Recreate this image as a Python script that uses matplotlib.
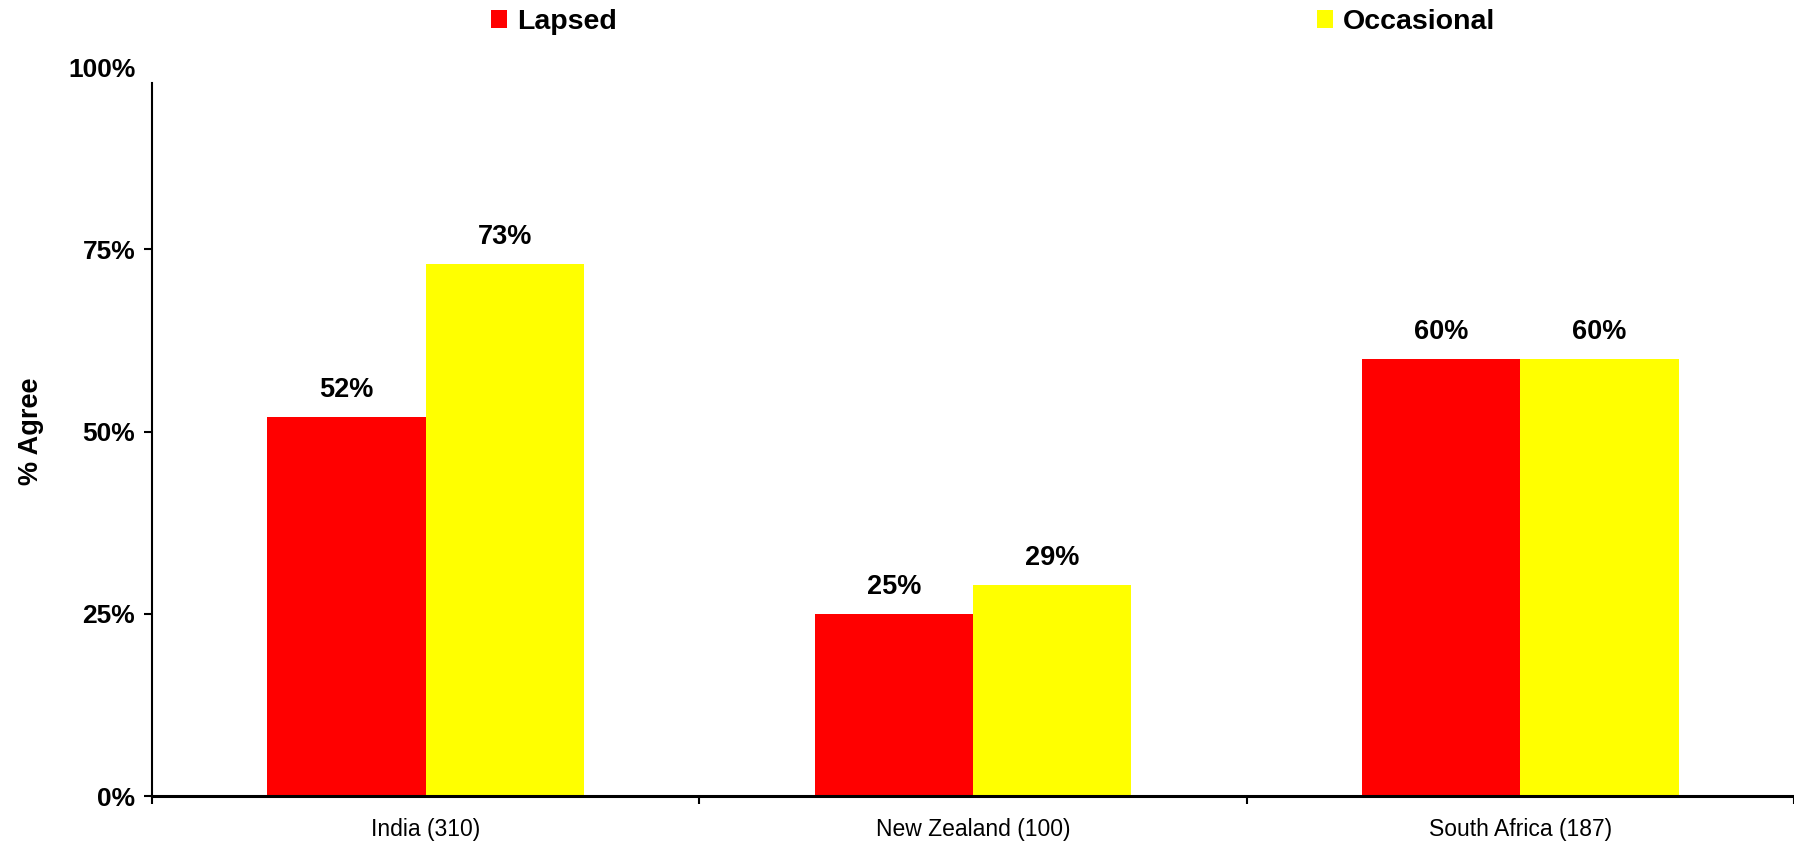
import matplotlib
matplotlib.use("Agg")
import matplotlib.pyplot as plt
from matplotlib import font_manager
import numpy as np

categories = ["India (310)", "New Zealand (100)", "South Africa (187)"]
series_names = ["Lapsed", "Occasional"]
lapsed = [0.52, 0.25, 0.60]
occasional = [0.73, 0.29, 0.60]
colors = ["#FF0000", "#FFFF00"]
yticks = [0, 0.25, 0.5, 0.75, 1.0]
ytick_labels = ["0%", "25%", "50%", "75%", "100%"]

# narrow font if we have it, plain Liberation Sans otherwise
try:
    font_manager.findfont("Liberation Sans Narrow", fallback_to_default=False)
    narrow = "Liberation Sans Narrow"
except ValueError:
    narrow = "Liberation Sans"
wide = "Liberation Sans"

fig = plt.figure(figsize=(17.94, 8.46), dpi=100)
ax = fig.add_axes([0.0847, 0.0591, 0.9153, 0.8617])

x = np.arange(len(categories))
w = 0.289
b1 = ax.bar(x - w / 2, lapsed, w, color=colors[0], label=series_names[0])
b2 = ax.bar(x + w / 2, occasional, w, color=colors[1], label=series_names[1])

for bars, vals in ((b1, lapsed), (b2, occasional)):
    for r, v in zip(bars, vals):
        ax.annotate("%d%%" % round(v * 100), (r.get_x() + r.get_width() / 2, v),
                    xytext=(0, 10), textcoords="offset points", ha="center", va="bottom",
                    fontsize=19.5, fontweight="bold", family=narrow)

ax.set_xlim(-0.5, len(categories) - 0.5)
ax.set_ylim(0, 1.0)
for s in ("top", "right"):
    ax.spines[s].set_visible(False)
ax.spines["left"].set_bounds(0, 0.978)
ax.spines["left"].set_linewidth(1.5)
ax.spines["bottom"].set_linewidth(2.2)

ax.set_yticks(yticks)
ax.set_yticklabels(ytick_labels, fontsize=19, fontweight="bold", family=narrow)
ax.tick_params(axis="y", direction="out", length=6, width=1.5, pad=6)
ax.yaxis.get_major_ticks()[-1].tick1line.set_visible(False)

ax.set_xticks(x)
ax.set_xticklabels(categories, fontsize=16.5, family=narrow)
ax.set_xticks(np.arange(len(categories) + 1) - 0.5, minor=True)
ax.tick_params(axis="x", which="major", length=0, pad=16)
ax.tick_params(axis="x", which="minor", direction="out", length=6, width=1.5)

ax.set_ylabel("% Agree", fontsize=19.5, fontweight="bold", family=wide)
ax.yaxis.set_label_coords(-0.066, 0.5)

fig.legend(loc="upper left", bbox_to_anchor=(0.2659, 1.006), ncol=2, frameon=False,
           prop={"family": wide, "weight": "bold", "size": 20.5},
           handlelength=0.55, handleheight=0.6, handletextpad=0.36,
           columnspacing=24.6, borderpad=0.0)

fig.savefig("out.png", dpi=100)
